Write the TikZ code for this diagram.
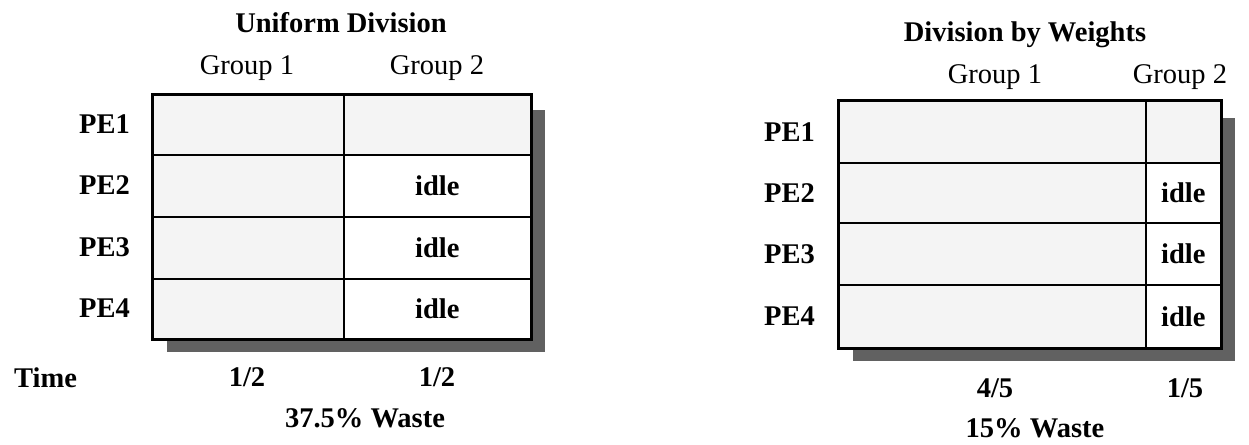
\documentclass[tikz,border=0pt]{standalone}
\usepackage{fontspec}
\setmainfont{Liberation Serif}
\definecolor{busy}{gray}{0.955}
\definecolor{shade}{gray}{0.38}
\tikzset{
  x=1pt, y=-1pt,
  lbl/.style={inner sep=0pt, font=\fontsize{28.5}{30}\selectfont\bfseries},
  grp/.style={inner sep=0pt, font=\fontsize{28.5}{30}\selectfont},
  cellbox/.style={draw=black, line width=1.6pt, inner sep=0pt, anchor=north west, font=\fontsize{28.5}{30}\selectfont\bfseries},
  busycell/.style={cellbox, fill=busy},
  idlecell/.style={cellbox, fill=white},
  frame/.style={draw=black, line width=3pt},
  shadowbox/.style={fill=shade, draw=none}
}
\begin{document}
\begin{tikzpicture}
\useasboundingbox (0,0) rectangle (1249,444);
% ---------- Left: Uniform Division ----------
\fill[shadowbox] (167,110) rectangle (545,352);
\node[busycell, minimum width=191pt, minimum height=60pt] (L11) at (152,94) {};
\node[busycell, minimum width=187pt, minimum height=60pt] (L12) at (343,94) {};
\node[busycell, minimum width=191pt, minimum height=62pt] (L21) at (152,154) {};
\node[idlecell, minimum width=187pt, minimum height=62pt] (L22) at (343,154) {idle};
\node[busycell, minimum width=191pt, minimum height=62pt] (L31) at (152,216) {};
\node[idlecell, minimum width=187pt, minimum height=62pt] (L32) at (343,216) {idle};
\node[busycell, minimum width=191pt, minimum height=60pt] (L41) at (152,278) {};
\node[idlecell, minimum width=187pt, minimum height=60pt] (L42) at (343,278) {idle};
\draw[frame] (L11.north west) rectangle (L42.south east);
\node[lbl] (LT) at (341,23) {Uniform Division};
\node[grp] (LG1) at (247,68) {Group 1};
\node[grp] (LG2) at (437,68) {Group 2};
\node[lbl, anchor=east] (LP1) at (130,124) {PE1};
\node[lbl, anchor=east] (LP2) at (130,185) {PE2};
\node[lbl, anchor=east] (LP3) at (130,247) {PE3};
\node[lbl, anchor=east] (LP4) at (130,308) {PE4};
\node[lbl, anchor=west] (LTime) at (14,378) {Time};
\node[lbl] (LH1) at (247,377) {1/2};
\node[lbl] (LH2) at (437,377) {1/2};
\node[lbl] (LW) at (365,418) {37.5\% Waste};
% ---------- Right: Division by Weights ----------
\fill[shadowbox] (853,118) rectangle (1235,361);
\node[busycell, minimum width=307pt, minimum height=62pt] (R11) at (838,100) {};
\node[busycell, minimum width=75pt, minimum height=62pt] (R12) at (1145,100) {};
\node[busycell, minimum width=307pt, minimum height=60pt] (R21) at (838,162) {};
\node[idlecell, minimum width=75pt, minimum height=60pt] (R22) at (1145,162) {idle};
\node[busycell, minimum width=307pt, minimum height=62pt] (R31) at (838,222) {};
\node[idlecell, minimum width=75pt, minimum height=62pt] (R32) at (1145,222) {idle};
\node[busycell, minimum width=307pt, minimum height=63pt] (R41) at (838,284) {};
\node[idlecell, minimum width=75pt, minimum height=63pt] (R42) at (1145,284) {idle};
\draw[frame] (R11.north west) rectangle (R42.south east);
\node[lbl] (RT) at (1025,35) {Division by Weights};
\node[grp] (RG1) at (995,77) {Group 1};
\node[grp] (RG2) at (1180,77) {Group 2};
\node[lbl, anchor=east] (RP1) at (815,132) {PE1};
\node[lbl, anchor=east] (RP2) at (815,193) {PE2};
\node[lbl, anchor=east] (RP3) at (815,254) {PE3};
\node[lbl, anchor=east] (RP4) at (815,316) {PE4};
\node[lbl] (RF1) at (995,388) {4/5};
\node[lbl] (RF2) at (1185,388) {1/5};
\node[lbl] (RW) at (1035,428) {15\% Waste};
\end{tikzpicture}
\end{document}
